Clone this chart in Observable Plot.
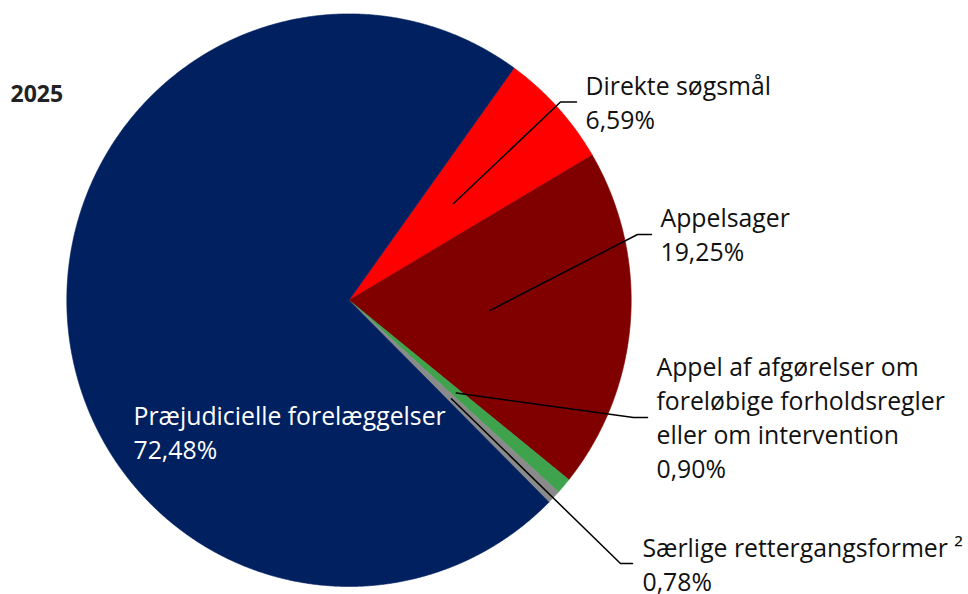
<!DOCTYPE html>
<html>
<head>
<meta charset="utf-8">
<script src="https://cdn.jsdelivr.net/npm/d3@7"></script>
<script src="https://cdn.jsdelivr.net/npm/@observablehq/plot@0.6"></script>
<style>
  html, body { margin: 0; padding: 0; background: #fff; }
  svg { display: block; }
</style>
</head>
<body>
<script>
// ---- data ----
const title = "2025";
const categories = [
  "Direkte søgsmål",
  "Appelsager",
  "Appel af afgørelser om\nforeløbige forholdsregler\neller om intervention",
  "Særlige rettergangsformer ²",
  "Præjudicielle forelæggelser"
];
const values = [6.59, 19.25, 0.90, 0.78, 72.48];
const colors = ["#ff0000", "#800000", "#3fa34d", "#8a8a8a", "#002060"];

// ---- layout (pixels) ----
const W = 968, H = 594;
const CX = 348.5, CY = 299.7, RX = 282.2, RY = 286.3;
const startDeg = 35.8;
const u = px => (px - CX) / RX;
const v = py => (CY - py) / RY;
// label text anchor (left, top), leader elbow & end
const labelLayout = [
  {x: 585, y: 70.3,  elbow: [560, 101.5], end: [576, 101.5], fill: "#111"},
  {x: 660, y: 202.3, elbow: [637, 234],   end: [651, 234],   fill: "#111"},
  {x: 656, y: 351.3, elbow: [633, 417],   end: [647, 417],   fill: "#111"},
  {x: 642, y: 532.3, elbow: [620, 563],   end: [632, 563],   fill: "#111"},
  {x: 133, y: 400.3, elbow: null,         end: null,         fill: "#ffffff"}
];

// ---- derived geometry (unit circle) ----
const rows = categories.map((c, i) => ({cat: c, value: values[i]}));
const arcs = d3.pie().sort(null).value(d => d.value)
  .startAngle(startDeg * Math.PI / 180)
  .endAngle(startDeg * Math.PI / 180 + 2 * Math.PI)(rows);

const slicePts = [];
arcs.forEach(a => {
  const cat = a.data.cat;
  slicePts.push({cat, x: 0, y: 0});
  const n = Math.max(2, Math.ceil((a.endAngle - a.startAngle) / (0.25 * Math.PI / 180)));
  for (let k = 0; k <= n; k++) {
    const t = a.startAngle + (a.endAngle - a.startAngle) * k / n;
    slicePts.push({cat, x: Math.sin(t), y: Math.cos(t)});
  }
  slicePts.push({cat, x: 0, y: 0});
});

const leaderPts = [];
arcs.forEach((a, i) => {
  const L = labelLayout[i];
  if (!L.elbow) return;
  const m = (a.startAngle + a.endAngle) / 2;
  leaderPts.push({cat: a.data.cat, x: 0.5 * Math.sin(m), y: 0.5 * Math.cos(m)});
  leaderPts.push({cat: a.data.cat, x: u(L.elbow[0]), y: v(L.elbow[1])});
  leaderPts.push({cat: a.data.cat, x: u(L.end[0]), y: v(L.end[1])});
});

const fmt = x => d3.format(".2f")(x).replace(".", ",") + "%";
const labels = arcs.map((a, i) => ({
  text: a.data.cat + "\n" + fmt(a.data.value),
  x: u(labelLayout[i].x),
  y: v(labelLayout[i].y),
  fill: labelLayout[i].fill
}));

const chart = Plot.plot({
  width: W,
  height: H,
  margin: 0,
  x: {domain: [u(0), u(W)], axis: null},
  y: {domain: [v(H), v(0)], axis: null},
  color: {domain: categories, range: colors},
  style: {fontFamily: "'Open Sans', sans-serif", background: "#fff"},
  marks: [
    Plot.line(slicePts, {x: "x", y: "y", z: "cat", fill: "cat", stroke: "cat", strokeWidth: 0.6, curve: "linear"}),
    Plot.line(leaderPts, {x: "x", y: "y", z: "cat", stroke: "#000", strokeWidth: 1.5, curve: "linear"}),
    Plot.text(labels, {x: "x", y: "y", text: "text", fill: d => d.fill, textAnchor: "start", lineAnchor: "top", fontSize: 24.8, lineHeight: 1.37}),
    Plot.text([title], {frameAnchor: "top-left", dx: 10, dy: 85, text: d => d, textAnchor: "start", lineAnchor: "top", fontSize: 23, fontWeight: "bold", fill: "#222"})
  ]
});
document.body.appendChild(chart);
</script>
</body>
</html>
